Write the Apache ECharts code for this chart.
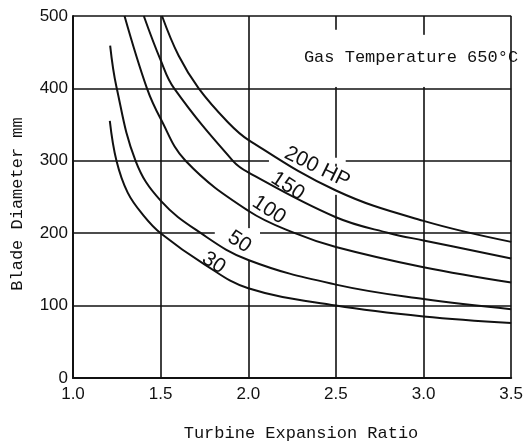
<!DOCTYPE html>
<html>
<head>
<meta charset="utf-8">
<script src="https://cdn.jsdelivr.net/npm/echarts@6/dist/echarts.min.js"></script>
<style>
  html, body { margin: 0; padding: 0; background: #ffffff; }
  #chart { width: 526px; height: 448px; }
</style>
</head>
<body>
<div id="chart"></div>
<script>
// Axis ticks
const xTicks = [1.0, 1.5, 2.0, 2.5, 3.0, 3.5];
const yTicks = [0, 100, 200, 300, 400, 500];

// Blade diameter (mm) vs. turbine expansion ratio, one curve per power rating
const hp30Ratio  = [1.21, 1.248, 1.312, 1.404, 1.5, 1.75, 2.0, 2.5, 3.0, 3.5];
const hp30Diam   = [355, 300, 256, 224, 200, 157, 124, 100, 85, 76];

const hp50Ratio  = [1.212, 1.248, 1.357, 1.5, 1.73, 2.0, 2.5, 3.0, 3.5];
const hp50Diam   = [459, 402, 300, 245, 200, 163, 129, 109, 95];

const hp100Ratio = [1.294, 1.422, 1.5, 1.642, 2.0, 2.266, 2.5, 3.0, 3.5];
const hp100Diam  = [500, 400, 358, 300, 231, 200, 181, 153, 132];

const hp150Ratio = [1.404, 1.5, 1.577, 1.912, 2.0, 2.5, 2.806, 3.0, 3.5];
const hp150Diam  = [500, 439, 400, 300, 284, 222, 200, 190, 165];

const hp200Ratio = [1.508, 1.603, 1.717, 1.881, 2.0, 2.5, 3.0, 3.5];
const hp200Diam  = [500, 445, 400, 354, 329, 259, 217, 188];

// Curve captions: text, anchor in data space, rotation in degrees
const curveLabels = [
  { text: '200 HP', at: [2.393, 291], rot: -26 },
  { text: '150',    at: [2.225, 265], rot: -33 },
  { text: '100',    at: [2.118, 232], rot: -33 },
  { text: '50',     at: [1.949, 188], rot: -33 },
  { text: '30',     at: [1.803, 159], rot: -33 }
];

// Breaks in the grid lines around the captions
const gridBreaks = [
  { dir: 'h', at: 300, from: 2.118, to: 2.556 },
  { dir: 'v', at: 2.5, from: 292, to: 253 },
  { dir: 'h', at: 200, from: 1.809, to: 2.067 },
  { dir: 'v', at: 2.0, from: 207, to: 163 },
  { dir: 'v', at: 2.5, from: 481, to: 402 },
  { dir: 'v', at: 3.0, from: 474, to: 402 }
];

const zip = (xs, ys) => xs.map((x, i) => [x, ys[i]]);

const curves = [
  zip(hp30Ratio, hp30Diam),
  zip(hp50Ratio, hp50Diam),
  zip(hp100Ratio, hp100Diam),
  zip(hp150Ratio, hp150Diam),
  zip(hp200Ratio, hp200Diam)
];

const INK = '#111111';
const numFont = '"Arial Narrow", "Liberation Sans Narrow", Arial, "Liberation Sans", sans-serif';
const monoFont = '"Liberation Mono", "DejaVu Sans Mono", monospace';

const chart = echarts.init(document.getElementById('chart'), null, { renderer: 'canvas' });

chart.setOption({
  animation: false,
  backgroundColor: '#ffffff',
  grid: { left: 73, right: 8, top: 16, bottom: 70, containLabel: false },
  xAxis: {
    type: 'value',
    min: xTicks[0],
    max: xTicks[xTicks.length - 1],
    interval: 0.5,
    axisLine: { show: true, onZero: false, lineStyle: { color: INK, width: 2 } },
    axisTick: { show: false },
    axisLabel: {
      color: INK, fontFamily: numFont, fontSize: 17, margin: 8,
      formatter: v => v.toFixed(1)
    },
    splitLine: { show: true, lineStyle: { color: INK, width: 1.6 } }
  },
  yAxis: {
    type: 'value',
    min: yTicks[0],
    max: yTicks[yTicks.length - 1],
    interval: 100,
    axisLine: { show: true, onZero: false, lineStyle: { color: INK, width: 2 } },
    axisTick: { show: false },
    axisLabel: { color: INK, fontFamily: numFont, fontSize: 17, margin: 5 },
    splitLine: { show: true, lineStyle: { color: INK, width: 1.6 } }
  },
  series: curves.map(data => ({
    type: 'line',
    data: data,
    smooth: 0.4,
    showSymbol: false,
    symbol: 'none',
    z: 3,
    lineStyle: { color: INK, width: 2 }
  }))
});

const px = p => chart.convertToPixel({ gridIndex: 0 }, p);

const elements = [];

// White patches that open the gaps in the grid
gridBreaks.forEach(b => {
  if (b.dir === 'h') {
    const a = px([b.from, b.at]);
    const c = px([b.to, b.at]);
    elements.push({
      type: 'rect', z: 1, silent: true,
      shape: { x: a[0], y: a[1] - 3, width: c[0] - a[0], height: 6 },
      style: { fill: '#ffffff' }
    });
  } else {
    const a = px([b.at, b.from]);
    const c = px([b.at, b.to]);
    elements.push({
      type: 'rect', z: 1, silent: true,
      shape: { x: a[0] - 3, y: a[1], width: 6, height: c[1] - a[1] },
      style: { fill: '#ffffff' }
    });
  }
});

// Curve captions
curveLabels.forEach(l => {
  const p = px(l.at);
  elements.push({
    type: 'text', z: 4, silent: true,
    x: p[0], y: p[1],
    rotation: l.rot * Math.PI / 180,
    style: {
      text: l.text, x: 0, y: 0,
      font: '21px ' + numFont,
      fill: INK, align: 'center', verticalAlign: 'middle'
    }
  });
});

// Axis titles and the temperature note
elements.push({
  type: 'text', z: 4, silent: true,
  x: 17, y: 204, rotation: Math.PI / 2,
  style: {
    text: 'Blade Diameter mm', x: 0, y: 0,
    font: '17px ' + monoFont, fill: INK, align: 'center', verticalAlign: 'middle'
  }
});
elements.push({
  type: 'text', z: 4, silent: true,
  x: 301, y: 433,
  style: {
    text: 'Turbine Expansion Ratio', x: 0, y: 0,
    font: '17px ' + monoFont, fill: INK, align: 'center', verticalAlign: 'middle'
  }
});
elements.push({
  type: 'text', z: 4, silent: true,
  x: 411, y: 57,
  style: {
    text: 'Gas Temperature 650°C', x: 0, y: 0,
    font: '17px ' + monoFont, fill: INK, align: 'center', verticalAlign: 'middle'
  }
});

chart.setOption({ graphic: { elements: elements } });
</script>
</body>
</html>
